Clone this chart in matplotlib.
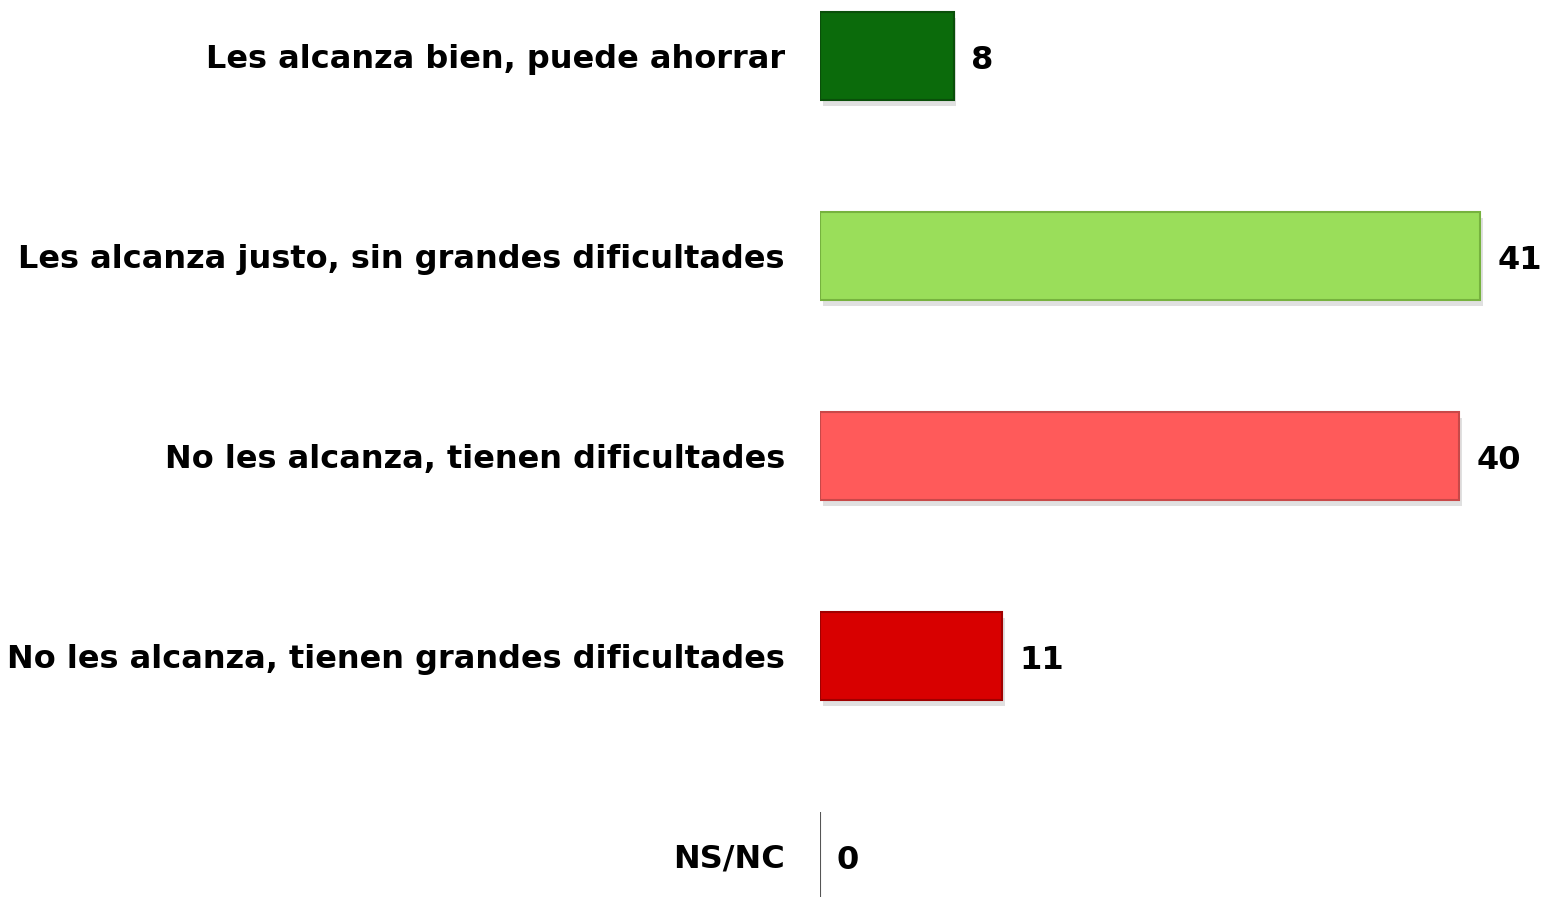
import matplotlib
matplotlib.use("Agg")
import matplotlib.pyplot as plt
import matplotlib.patheffects as pe

categories = [
    "Les alcanza bien, puede ahorrar",
    "Les alcanza justo, sin grandes dificultades",
    "No les alcanza, tienen dificultades",
    "No les alcanza, tienen grandes dificultades",
    "NS/NC",
]
values = [8.3, 41.0, 39.7, 11.3, 0.0]
value_labels = ["8", "41", "40", "11", "0"]
colors = ["#0b6b0b", "#9ade5a", "#ff5a5a", "#d80000", "#ffffff"]
edges = ["#0a4f0a", "#76b23e", "#c84848", "#a00000", "#555555"]

W, H = 1542, 897
fig = plt.figure(figsize=(W / 100, H / 100), dpi=100)
ax = fig.add_axes([820 / W, 0, 1 - 820 / W, 1])
ax.set_xlim(0, (W - 820) / 16.1)
ax.set_ylim((H - 56) / 200, -56 / 200)
ax.axis("off")

ypos = list(range(len(categories)))
bars = ax.barh(ypos, values, height=0.44, color=colors, edgecolor=edges, linewidth=1.5)
for b in bars:
    b.set_path_effects([pe.SimplePatchShadow(offset=(2, -4), shadow_rgbFace="#999999", alpha=0.3), pe.Normal()])

font = "DejaVu Sans"
for y, v, lab, cat in zip(ypos, values, value_labels, categories):
    ax.annotate(lab, xy=(v, y), xytext=(17, -4), textcoords="offset pixels", ha="left", va="center",
                fontsize=23, fontweight="bold", family=font, color="black")
    ax.annotate(cat, xy=(0, y), xytext=(-35, -3), textcoords="offset pixels", ha="right", va="center",
                fontsize=23, fontweight="bold", family=font, color="black")

fig.savefig("out.png", dpi=100)
